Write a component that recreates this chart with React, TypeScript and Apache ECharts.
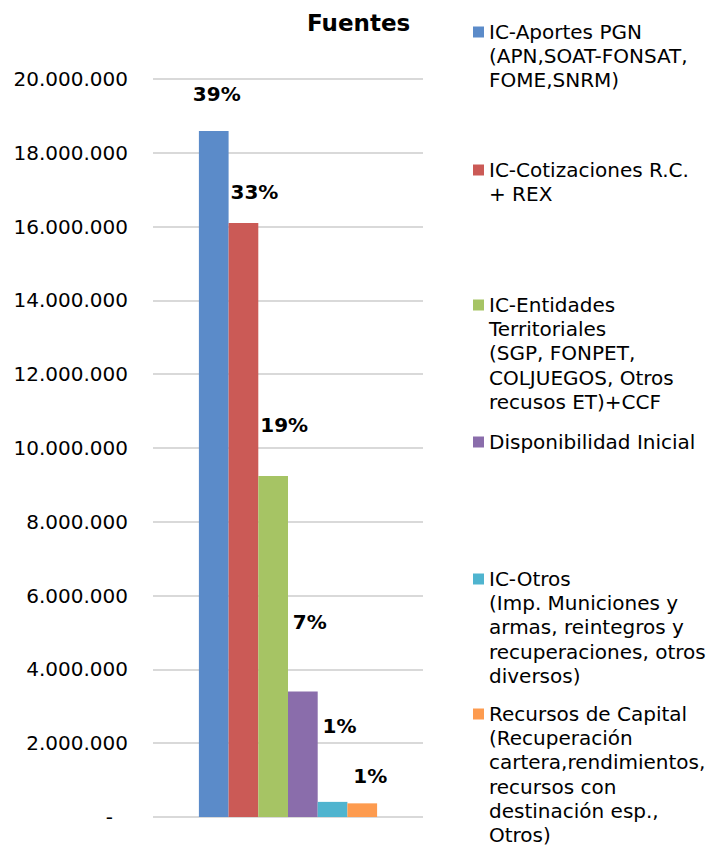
import React, { useEffect, useRef } from "react";
import * as echarts from "echarts";

const titleText = "Fuentes";
const categories = [""];
const seriesNames = [
  "IC-Aportes PGN\n(APN,SOAT-FONSAT,\nFOME,SNRM)",
  "IC-Cotizaciones R.C.\n+ REX",
  "IC-Entidades\nTerritoriales\n(SGP, FONPET,\nCOLJUEGOS, Otros\nrecusos ET)+CCF",
  "Disponibilidad Inicial",
  "IC-Otros\n(Imp. Municiones y\narmas, reintegros y\nrecuperaciones, otros\ndiversos)",
  "Recursos de Capital\n(Recuperación\ncartera,rendimientos,\nrecursos con\ndestinación esp.,\nOtros)",
];
const seriesValues = [18590000, 16100000, 9240000, 3400000, 410000, 370000];
const seriesColors = ["#5B8BC9", "#CB5A56", "#A6C464", "#8A6DAB", "#4FB4CF", "#FD9B4F"];

// layout (not data)
const labelOffsets = [
  [3, -27],
  [11, -21],
  [11, -41],
  [7, -60],
  [7, -66],
  [8, -17],
];
const legendLineCenters = [32, 170, 305, 442, 579, 714];
const LEGEND_LINE_H = 24.2;

const FONT = "'DejaVu Sans', Verdana, sans-serif";

const fmtNum = (v: number) => {
  if (v === 0) return "{d|-}";
  return String(Math.round(v)).replace(/\B(?=(\d{3})+(?!\d))/g, ".");
};

export default function App() {
  const ref = useRef<HTMLDivElement>(null);
  useEffect(() => {
    if (!ref.current) return;
    const chart = echarts.init(ref.current, undefined, { renderer: "svg" });
    const total = seriesValues.reduce((a, b) => a + b, 0);
    const legendGraphics: any[] = [];
    seriesNames.forEach((name, i) => {
      const cy = legendLineCenters[i];
      legendGraphics.push({
        type: "rect",
        shape: { x: 473, y: cy - 5.5, width: 11, height: 11 },
        style: { fill: seriesColors[i] },
      });
      legendGraphics.push({
        type: "text",
        x: 489,
        y: cy - LEGEND_LINE_H / 2,
        style: {
          text: name,
          fontSize: 20,
          fontFamily: FONT,
          lineHeight: LEGEND_LINE_H,
          fill: "#000",
          align: "left",
          verticalAlign: "top",
        },
      });
    });
    chart.setOption({
      animation: false,
      backgroundColor: "#fff",
      title: {
        text: titleText,
        left: 302,
        top: 6,
        textStyle: { fontSize: 23, fontWeight: "bold", fontFamily: FONT, color: "#000" },
      },
      grid: { left: 153, right: 286, top: 79, bottom: 31, containLabel: false },
      xAxis: {
        type: "category",
        data: categories,
        axisLine: { show: false },
        axisTick: { show: false },
        axisLabel: { show: false },
      },
      yAxis: {
        type: "value",
        min: 0,
        max: 20000000,
        interval: 2000000,
        axisLine: { show: false },
        axisTick: { show: false },
        splitLine: { lineStyle: { color: "#d9d9d9", width: 2 } },
        axisLabel: {
          margin: 25,
          fontSize: 20,
          fontFamily: FONT,
          color: "#000",
          formatter: fmtNum,
          rich: {
            d: { fontSize: 20, fontFamily: FONT, color: "#000", padding: [0, 15, 0, 0] },
          },
        },
      },
      series: seriesNames.map((name, i) => ({
        type: "bar",
        name,
        data: [seriesValues[i]],
        barGap: "0%",
        barCategoryGap: "34%",
        itemStyle: { color: seriesColors[i] },
        label: {
          show: true,
          position: "top",
          distance: 0,
          offset: labelOffsets[i],
          fontSize: 20,
          fontWeight: "bold",
          fontFamily: FONT,
          color: "#000",
          formatter: () => `${Math.round((seriesValues[i] / total) * 100)}%`,
        },
      })),
      graphic: legendGraphics,
    });
    return () => chart.dispose();
  }, []);
  return (
    <div
      ref={ref}
      style={{ position: "fixed", left: 0, top: 0, width: 709, height: 848 }}
    />
  );
}
